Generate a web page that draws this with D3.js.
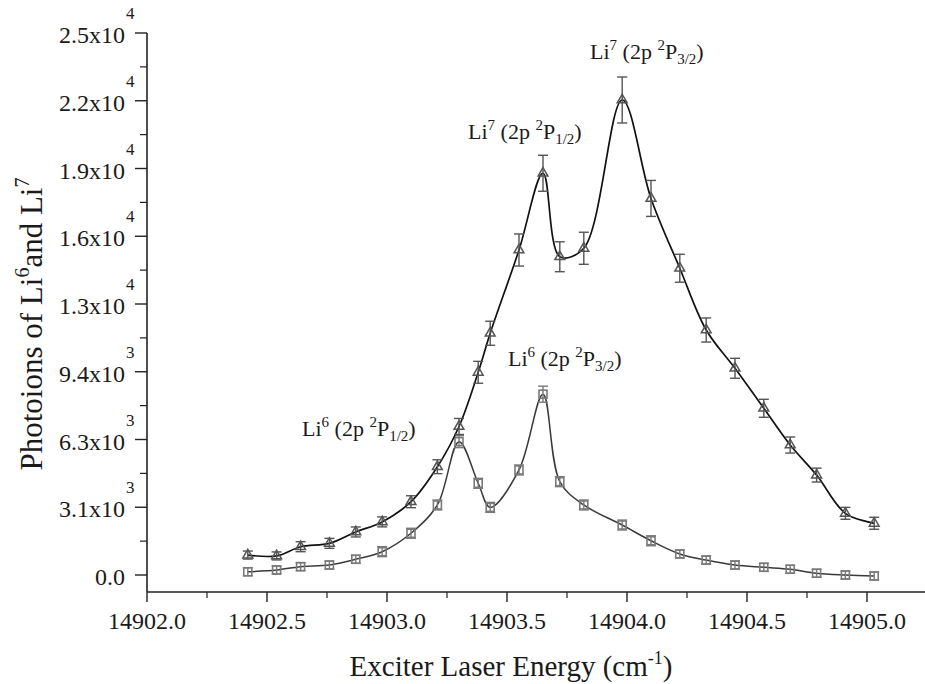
<!DOCTYPE html>
<html><head><meta charset="utf-8">
<script src="https://cdn.jsdelivr.net/npm/d3@7"></script>
<style>
body{margin:0;background:#fff}
text{font-family:"Liberation Serif","Times New Roman",serif;fill:#1a1a1a}
</style>
</head><body>
<svg id="chart" width="925" height="684"></svg>
<script>
// ---- data ----
const energy = [14902.42,14902.54,14902.64,14902.76,14902.87,14902.98,14903.10,14903.21,14903.30,14903.38,14903.43,14903.55,14903.65,14903.72,14903.82,14903.98,14904.10,14904.22,14904.33,14904.45,14904.57,14904.68,14904.79,14904.91,14905.03];
const li7 = [920,880,1305,1460,1985,2450,3380,4995,6850,9350,11150,14990,18530,14680,15070,21910,17370,14150,11300,9535,7690,5995,4610,2845,2385];
const li7Err = [185,185,230,230,230,230,275,320,370,505,555,740,830,690,740,1060,830,645,555,460,415,370,320,275,275];
const li6 = [150,230,385,460,725,1075,1925,3230,6150,4230,3120,4845,8340,4305,3230,2305,1580,970,690,460,355,265,80,0,-45];
const li6Err = [185,185,185,185,185,230,230,230,275,230,230,230,370,230,230,230,230,185,185,185,185,185,185,185,185];
const xTickValues = [14902.0,14902.5,14903.0,14903.5,14904.0,14904.5,14905.0];
const xTickLabels = ["14902.0","14902.5","14903.0","14903.5","14904.0","14904.5","14905.0"];
const yTickValues = [0,3125,6250,9375,12500,15625,18750,21875,25000];
const yTickMantissa = ["0.0","3.1x10","6.3x10","9.4x10","1.3x10","1.6x10","1.9x10","2.2x10","2.5x10"];
const yTickExponent = ["","3","3","3","4","4","4","4","4"];
const annotations = [
  {iso:"7", term:"3/2", e:14903.846, v:23800},
  {iso:"7", term:"1/2", e:14903.3375, v:20110},
  {iso:"6", term:"3/2", e:14903.504, v:9640},
  {iso:"6", term:"1/2", e:14902.646, v:6410}
];

// ---- layout ----
const svg = d3.select("#chart");
const x = d3.scaleLinear().domain([14902, 14905]).range([147, 867]);
const y = d3.scaleLinear().domain([0, 25000]).range([575, 33]);
const axisX0 = 147, axisY0 = 592;

const g = svg.append("g");

// axes lines
g.append("line").attr("x1",axisX0).attr("x2",925).attr("y1",axisY0).attr("y2",axisY0)
  .attr("stroke","#222").attr("stroke-width",1.6);
g.append("line").attr("x1",axisX0).attr("x2",axisX0).attr("y1",y(25000)).attr("y2",axisY0)
  .attr("stroke","#222").attr("stroke-width",1.6);

// x ticks (major + minor), pointing down
const xMinor = d3.range(14902.25, 14905.3, 0.5);
g.selectAll(".xmaj").data(xTickValues).join("line")
  .attr("x1",d=>x(d)).attr("x2",d=>x(d)).attr("y1",axisY0).attr("y2",axisY0+10)
  .attr("stroke","#222").attr("stroke-width",1.4);
g.selectAll(".xmin").data(xMinor.filter(d=>x(d)<925)).join("line")
  .attr("x1",d=>x(d)).attr("x2",d=>x(d)).attr("y1",axisY0).attr("y2",axisY0+6)
  .attr("stroke","#222").attr("stroke-width",1.2);
g.selectAll(".xlab").data(xTickValues).join("text")
  .attr("x",d=>x(d)).attr("y",629).attr("text-anchor","middle")
  .attr("font-size",24).text((d,i)=>xTickLabels[i]);

// y ticks, pointing left
const yMinor = d3.range(1562.5, 25000, 3125);
g.selectAll(".ymaj").data(yTickValues).join("line")
  .attr("x1",axisX0-12).attr("x2",axisX0).attr("y1",d=>y(d)).attr("y2",d=>y(d))
  .attr("stroke","#222").attr("stroke-width",1.4);
g.selectAll(".ymin").data(yMinor).join("line")
  .attr("x1",axisX0-7).attr("x2",axisX0).attr("y1",d=>y(d)).attr("y2",d=>y(d))
  .attr("stroke","#222").attr("stroke-width",1.2);
g.selectAll(".ylab").data(yTickValues).join("text")
  .attr("x",125).attr("y",d=>y(d)+10).attr("text-anchor","end")
  .attr("font-size",24).text((d,i)=>yTickMantissa[i]);
g.selectAll(".yexp").data(yTickValues).join("text")
  .attr("x",126).attr("y",d=>y(d)-14)
  .attr("font-size",17).text((d,i)=>yTickExponent[i]);

// axis titles
const xt = g.append("text").attr("x",511).attr("y",676).attr("text-anchor","middle").attr("font-size",29);
xt.append("tspan").text("Exciter Laser Energy (cm");
xt.append("tspan").attr("font-size",18).attr("dy",-12).text("-1");
xt.append("tspan").attr("dy",12).text(")");

const yt = g.append("text").attr("transform","translate(42,324) rotate(-90)").attr("text-anchor","middle").attr("font-size",31);
yt.append("tspan").text("Photoions of Li");
yt.append("tspan").attr("font-size",20).attr("dy",-13).text("6");
yt.append("tspan").attr("dy",13).text("and Li");
yt.append("tspan").attr("font-size",20).attr("dy",-13).text("7");

// ---- series ----
const line = d3.line().curve(d3.curveCatmullRom.alpha(0.5));
const pts7 = energy.map((e,i)=>[x(e), y(li7[i])]);
const pts6 = energy.map((e,i)=>[x(e), y(li6[i])]);

function errorBars(vals, errs, color){
  const eg = g.append("g").attr("stroke",color).attr("stroke-width",1.4).attr("fill","none");
  energy.forEach((e,i)=>{
    const cx = x(e), top = y(vals[i]+errs[i]), bot = y(vals[i]-errs[i]);
    eg.append("line").attr("x1",cx).attr("x2",cx).attr("y1",top).attr("y2",bot);
    eg.append("line").attr("x1",cx-5).attr("x2",cx+5).attr("y1",top).attr("y2",top);
    eg.append("line").attr("x1",cx-5).attr("x2",cx+5).attr("y1",bot).attr("y2",bot);
  });
}

// Li6 (lower, grey squares)
g.append("path").attr("d",line(pts6)).attr("fill","none").attr("stroke","#3a3a3a").attr("stroke-width",1.5);
errorBars(li6, li6Err, "#7a7a7a");
g.selectAll(".m6").data(energy).join("rect")
  .attr("x",(d,i)=>x(d)-4).attr("y",(d,i)=>y(li6[i])-4).attr("width",8).attr("height",8)
  .attr("fill","none").attr("stroke","#7a7a7a").attr("stroke-width",1.6);

// Li7 (upper, triangles, black line)
g.append("path").attr("d",line(pts7)).attr("fill","none").attr("stroke","#111").attr("stroke-width",1.7);
errorBars(li7, li7Err, "#555");
const tri = d3.symbol().type(d3.symbolTriangle).size(42);
g.selectAll(".m7").data(energy).join("path")
  .attr("transform",(d,i)=>`translate(${x(d)},${y(li7[i])})`)
  .attr("d",tri()).attr("fill","none").attr("stroke","#555").attr("stroke-width",1.5);

// ---- peak annotations ----
annotations.forEach(a=>{
  const t = g.append("text").attr("x",x(a.e)).attr("y",y(a.v)).attr("font-size",22);
  t.append("tspan").text("Li");
  t.append("tspan").attr("font-size",15).attr("dy",-9).text(a.iso);
  t.append("tspan").attr("dy",9).text(" (2p ");
  t.append("tspan").attr("font-size",15).attr("dy",-9).text("2");
  t.append("tspan").attr("dy",9).text("P");
  t.append("tspan").attr("font-size",15).attr("dy",5).text(a.term);
  t.append("tspan").attr("dy",-5).text(")");
});
</script>
</body></html>
